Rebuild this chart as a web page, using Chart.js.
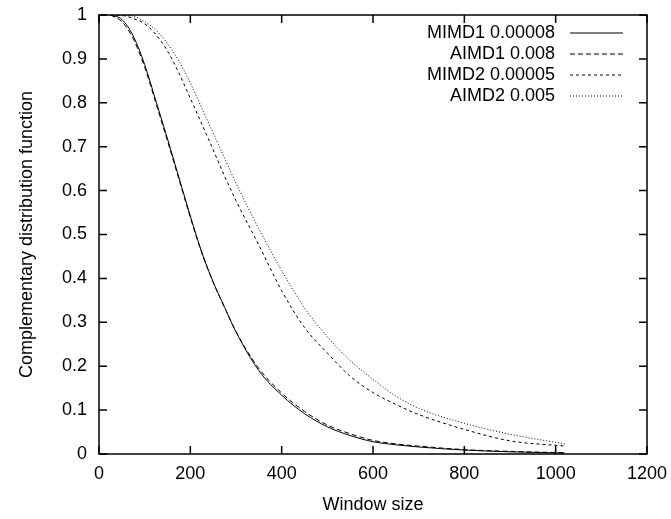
<!DOCTYPE html>
<html>
<head>
<meta charset="utf-8">
<script src="https://cdn.jsdelivr.net/npm/chart.js@4"></script>
<style>
  html, body { margin: 0; background: #fff; }
</style>
</head>
<body>
<canvas id="grafico" width="671" height="519"></canvas>
<script>
// valores
const windowSize = [25, 50, 75, 100, 125, 150, 175, 200, 225, 250, 275, 300, 350, 400, 450, 500, 550, 600, 650, 700, 800, 900, 1020]
const mimd1 = [1.0, 0.990, 0.952, 0.887, 0.803, 0.718, 0.630, 0.542, 0.460, 0.392, 0.334, 0.278, 0.190, 0.134, 0.092, 0.062, 0.042, 0.028, 0.021, 0.016, 0.009, 0.005, 0.002]
const aimd1 = [1.0, 0.985, 0.946, 0.881, 0.798, 0.713, 0.626, 0.539, 0.458, 0.391, 0.334, 0.279, 0.195, 0.139, 0.097, 0.066, 0.046, 0.031, 0.023, 0.018, 0.010, 0.006, 0.003]
const mimd2 = [1.0, 0.999, 0.992, 0.980, 0.955, 0.918, 0.868, 0.810, 0.752, 0.693, 0.633, 0.577, 0.476, 0.372, 0.288, 0.230, 0.177, 0.140, 0.113, 0.090, 0.056, 0.030, 0.018]
const aimd2 = [1.0, 1.0, 0.997, 0.985, 0.965, 0.935, 0.895, 0.845, 0.788, 0.731, 0.674, 0.617, 0.513, 0.418, 0.333, 0.267, 0.213, 0.170, 0.132, 0.104, 0.070, 0.045, 0.023]

const seriesLabels = ['MIMD1 0.00008', 'AIMD1 0.008', 'MIMD2 0.00005', 'AIMD2 0.005']
const xTicks = [0, 200, 400, 600, 800, 1000, 1200]
const xTickLabels = ['0', '200', '400', '600', '800', '1000', '1200']
const yTicks = [0, 0.1, 0.2, 0.3, 0.4, 0.5, 0.6, 0.7, 0.8, 0.9, 1]
const yTickLabels = ['0', '0.1', '0.2', '0.3', '0.4', '0.5', '0.6', '0.7', '0.8', '0.9', '1']

const fonte = { family: '"Liberation Sans", Arial, sans-serif', size: 18 }

function pontos(valores) {
  return windowSize.map((x, i) => ({ x: x, y: valores[i] }))
}

function serie(label, valores, dash) {
  return {
    label: label,
    data: pontos(valores),
    borderColor: '#000',
    borderWidth: 1,
    borderDash: dash,
    pointRadius: 0,
    cubicInterpolationMode: 'monotone',
    fill: false
  }
}

// moldura estilo gnuplot, ticks para dentro e legenda no canto
const molduraGnuplot = {
  id: 'molduraGnuplot',
  afterDatasetsDraw(chart) {
    const { ctx, chartArea: a, scales } = chart
    const tick = 8
    ctx.save()
    ctx.strokeStyle = '#000'
    ctx.lineWidth = 1.5
    ctx.setLineDash([])
    ctx.beginPath()
    for (const v of xTicks) {
      const px = scales.x.getPixelForValue(v)
      ctx.moveTo(px, a.bottom); ctx.lineTo(px, a.bottom - tick)
      ctx.moveTo(px, a.top); ctx.lineTo(px, a.top + tick)
    }
    for (const v of yTicks) {
      const py = scales.y.getPixelForValue(v)
      ctx.moveTo(a.left, py); ctx.lineTo(a.left + tick, py)
      ctx.moveTo(a.right, py); ctx.lineTo(a.right - tick, py)
    }
    ctx.stroke()
    ctx.strokeRect(a.left, a.top, a.right - a.left, a.bottom - a.top)

    // legenda
    ctx.font = fonte.size + 'px ' + fonte.family
    ctx.fillStyle = '#000'
    ctx.textAlign = 'right'
    ctx.textBaseline = 'middle'
    chart.data.datasets.forEach((ds, i) => {
      const y = a.top + 18 + i * 21
      ctx.fillText(ds.label, a.right - 92, y)
      ctx.lineWidth = ds.borderWidth
      ctx.setLineDash(ds.borderDash || [])
      ctx.beginPath()
      ctx.moveTo(a.right - 77, y)
      ctx.lineTo(a.right - 24, y)
      ctx.stroke()
    })
    ctx.restore()
  }
}

new Chart(document.getElementById('grafico'), {
  type: 'line',
  data: {
    datasets: [
      serie(seriesLabels[0], mimd1, []),
      serie(seriesLabels[1], aimd1, [5, 3]),
      serie(seriesLabels[2], mimd2, [3, 3]),
      serie(seriesLabels[3], aimd2, [1, 2])
    ]
  },
  options: {
    responsive: false,
    animation: false,
    devicePixelRatio: 1,
    layout: { padding: { left: 0, right: 24, top: 15, bottom: 0 } },
    plugins: {
      legend: { display: false },
      tooltip: { enabled: false }
    },
    scales: {
      x: {
        type: 'linear',
        min: 0,
        max: 1200,
        afterBuildTicks: scale => { scale.ticks = xTicks.map(v => ({ value: v })) },
        afterFit: scale => {
          scale.height = 65
          scale.paddingLeft = 0
          scale.paddingRight = 0
        },
        grid: { display: false, drawTicks: false },
        border: { display: false },
        ticks: { color: '#000', font: fonte, padding: 9, maxRotation: 0, callback: (v, i) => xTickLabels[i] },
        title: { display: true, text: 'Window size', color: '#000', font: fonte, padding: { top: 0, bottom: 3 } }
      },
      y: {
        type: 'linear',
        min: 0,
        max: 1,
        afterBuildTicks: scale => { scale.ticks = yTicks.map(v => ({ value: v })) },
        afterFit: scale => {
          scale.width = 99
          scale.paddingTop = 0
          scale.paddingBottom = 0
        },
        grid: { display: false, drawTicks: false },
        border: { display: false },
        ticks: {
          color: '#000',
          font: fonte,
          padding: 12,
          callback: (v, i) => yTickLabels[i]
        },
        title: { display: true, text: 'Complementary distribution function', color: '#000', font: fonte, padding: { top: 16, bottom: 0 } }
      }
    }
  },
  plugins: [molduraGnuplot]
})
</script>
</body>
</html>
